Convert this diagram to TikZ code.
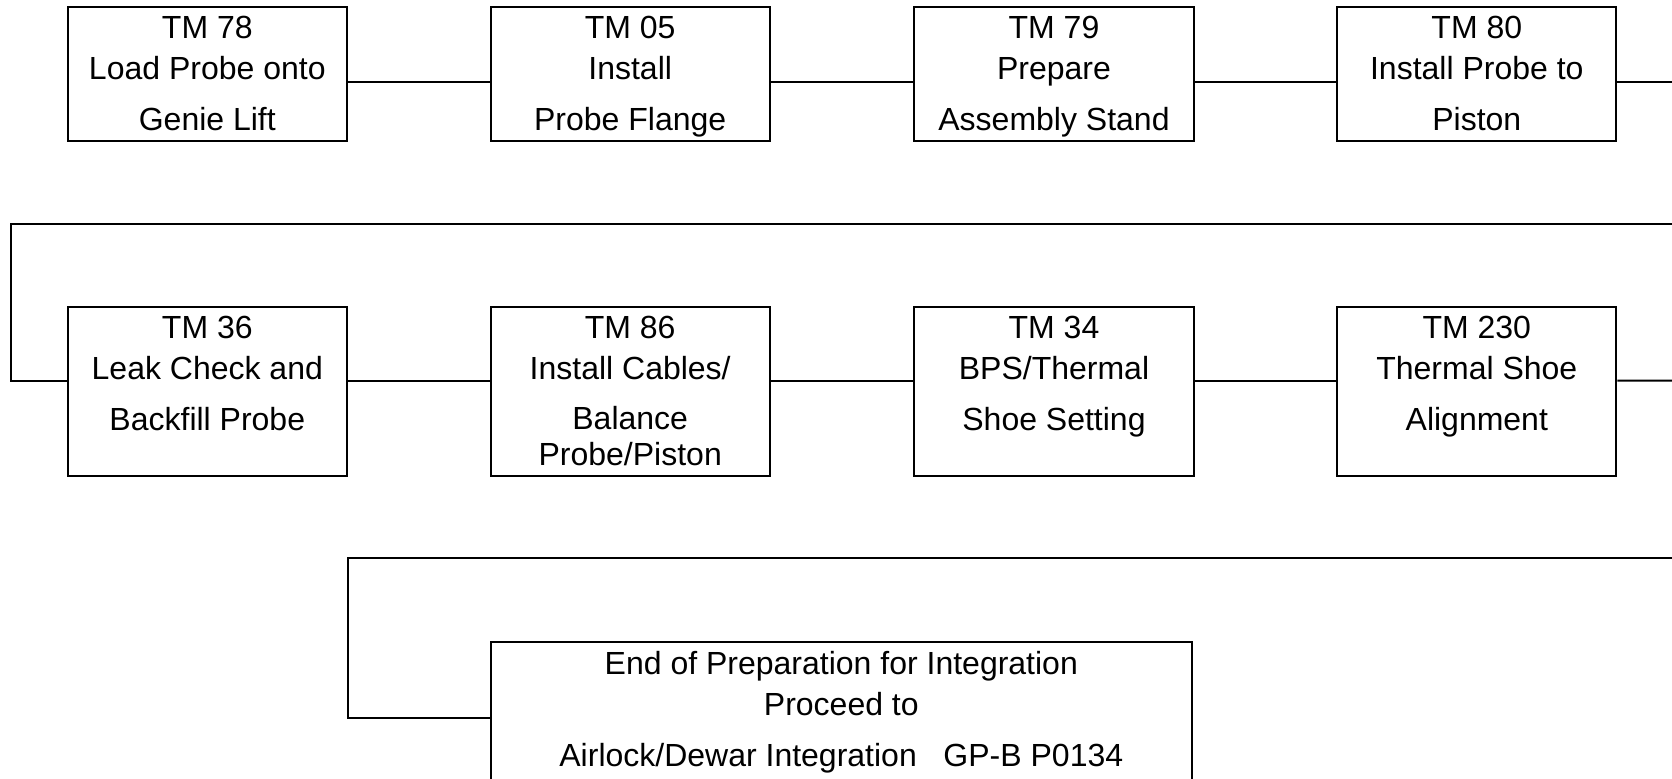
\documentclass[tikz,border=0pt]{standalone}
\usepackage{fontspec}
\setmainfont{Liberation Sans}
\tikzset{
  tmbox/.style={draw, line width=1pt, minimum width=139.6pt, inner sep=0pt},
  tmtext/.style={anchor=north, align=center, inner sep=0pt,
    font=\fontsize{16}{20.3}\selectfont},
  link/.style={line width=1pt},
}
\begin{document}
\begin{tikzpicture}[x=0.5pt,y=-0.5pt]
 \useasboundingbox (0,0) rectangle (1672,778);
 \clip (0,0) rectangle (1672,778);
 % first row
 \foreach \x/\n/\txt in {207.3/tm78/{TM 78\\Load Probe onto\\[5.5pt]Genie Lift},
   630.2/tm05/{TM 05\\Install\\[5.5pt]Probe Flange},
   1054/tm79/{TM 79\\Prepare\\[5.5pt]Assembly Stand},
   1476.8/tm80/{TM 80\\Install Probe to\\[5.5pt]Piston}} {
   \node[tmbox, minimum height=67pt] (\n) at (\x,73.7) {};
   \node[tmtext] (\n-t) at ([yshift=-5pt]\n.north) {\txt};
 }
 % second row
 \foreach \x/\n/\txt in {207.3/tm36/{TM 36\\Leak Check and\\[5.5pt]Backfill Probe},
   630.2/tm86/{TM 86\\Install Cables/\\[5pt]Balance\\[-2.5pt]Probe/Piston},
   1054/tm34/{TM 34\\BPS/Thermal\\[5.5pt]Shoe Setting},
   1476.8/tm230/{TM 230\\Thermal Shoe\\[5.5pt]Alignment}} {
   \node[tmbox, minimum height=84.65pt] (\n) at (\x,391.35) {};
   \node[tmtext] (\n-t) at ([yshift=-5pt]\n.north) {\txt};
 }
 % last box, runs past the bottom
 \node[tmbox, anchor=north, minimum width=350.7pt, minimum height=100pt] (endbox) at (841.3,641) {};
 \node[tmtext] (endbox-t) at ([yshift=-5pt]endbox.north)
   {End of Preparation for Integration\\Proceed to\\[5.5pt]Airlock/Dewar Integration\ \ \ GP-B P0134};

 % links in the rows
 \foreach \a/\b in {tm78/tm05, tm05/tm79, tm79/tm80}
   \draw[link] ([yshift=-4pt]\a.east) -- ([yshift=-4pt]\b.west);
 \foreach \a/\b in {tm36/tm86, tm86/tm34, tm34/tm230}
   \draw[link] ([yshift=5.4pt]\a.east) -- ([yshift=5.4pt]\b.west);

 % wrap round to the next row
 \coordinate (r1out) at (1672,81.7);
 \coordinate (r2out) at (1672,380.5);
 \coordinate (wrap1) at (1672,224);
 \coordinate (wrap1l) at (11,224);
 \coordinate (wrap2) at (1672,558);
 \draw[link] ([yshift=-4pt]tm80.east) -- (r1out);
 \draw[link] (wrap1) -- (wrap1l) |- ([yshift=5.4pt]tm36.west);
 \draw[link] ([yshift=5.4pt]tm230.east) -- (r2out);
 \draw[link] (wrap2) -- (tm36.east |- wrap2) |- ([yshift=-38.5pt]endbox.north west);
\end{tikzpicture}
\end{document}
